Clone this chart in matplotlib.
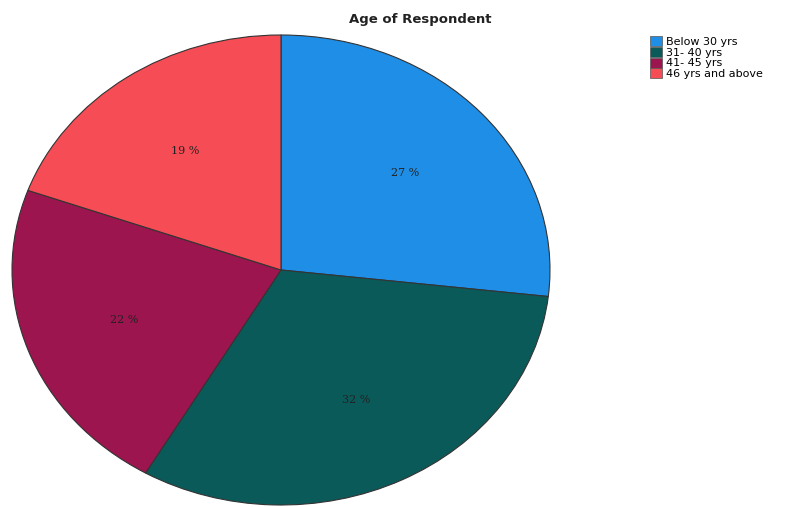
import matplotlib.pyplot as plt
from matplotlib.patches import Patch
import numpy as np

labels = ["Below 30 yrs", "31- 40 yrs", "41- 45 yrs", "46 yrs and above"]
shares = [26.8, 31.6, 22.1, 19.5]
pct_text = ["27 %", "32 %", "22 %", "19 %"]
colors = ["#1e8ee6", "#0b5a5a", "#9c154f", "#f64c55"]

fig = plt.figure(figsize=(7.86, 5.07), dpi=100)
W, H = 786, 507
ax = fig.add_axes([12 / W, 2 / H, 538 / W, 470 / H])

wedges, _ = ax.pie(shares, colors=colors, startangle=90, counterclock=False,
                   wedgeprops=dict(edgecolor="#333333", linewidth=0.8))
ax.set_aspect("auto")
ax.set_xlim(-1, 1)
ax.set_ylim(-1, 1)
ax.axis("off")

# percent labels placed along each wedge's mid-angle
for w, txt in zip(wedges, pct_text):
    mid = np.deg2rad((w.theta1 + w.theta2) / 2)
    ax.text(0.62 * np.cos(mid), 0.62 * np.sin(mid), txt, ha="center", va="center",
            fontsize=8, family="DejaVu Serif", color="#222222")

fig.text(420 / W, 1 - 20 / H, "Age of Respondent", ha="center", va="center",
         fontsize=9.5, fontweight="bold", color="#222222")

handles = [Patch(facecolor=c, edgecolor="#555555", linewidth=0.5) for c in colors]
fig.legend(handles, labels, loc="upper left", bbox_to_anchor=(650 / W, 1 - 36 / H),
           frameon=False, fontsize=8, handlelength=1.1, handleheight=1.0,
           handletextpad=0.3, labelspacing=0.0, borderpad=0, borderaxespad=0)

fig.savefig("out.png", dpi=100)
